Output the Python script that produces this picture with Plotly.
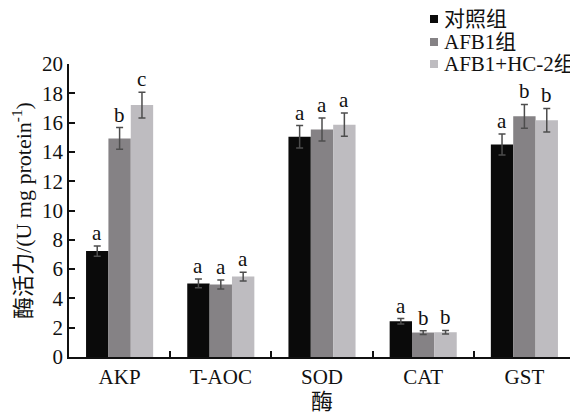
import plotly.graph_objects as go

categories = ["AKP", "T-AOC", "SOD", "CAT", "GST"]
series_names = ["对照组", "AFB1组", "AFB1+HC-2组"]
control = [7.23, 5.02, 15.03, 2.44, 14.51]
control_err = [0.35, 0.30, 0.77, 0.18, 0.72]
afb1 = [14.92, 4.95, 15.53, 1.67, 16.43]
afb1_err = [0.74, 0.30, 0.79, 0.13, 0.81]
afb1_hc2 = [17.20, 5.49, 15.86, 1.69, 16.16]
afb1_hc2_err = [0.88, 0.30, 0.79, 0.12, 0.81]
letters_control = ["a", "a", "a", "a", "a"]
letters_afb1 = ["b", "a", "a", "b", "b"]
letters_hc2 = ["c", "a", "a", "b", "b"]
y_ticks = [0, 2, 4, 6, 8, 10, 12, 14, 16, 18, 20]

colors = ["#0a0a0a", "#858285", "#bebcc0"]
err_color = "#4d4d4d"
FONT = "Liberation Serif, Times New Roman, Noto Sans CJK SC, serif"

values = [control, afb1, afb1_hc2]
errs = [control_err, afb1_err, afb1_hc2_err]
letters = [letters_control, letters_afb1, letters_hc2]

# the page body has an 8px default margin, so the figure is drawn 8px in
OFF = 8
W, H = 578 - OFF, 415 - OFF
ML, MR, MT, MB = 69 - OFF, 3, 64 - OFF, 58
PW, PH = W - ML - MR, H - MT - MB

def px_x(p):
    return (p - OFF - ML) / PW

def px_y(p):
    return (H + OFF - MB - p) / PH

bargap = 0.337
bar_w = (1 - bargap) / 3

fig = go.Figure()
for k in range(3):
    fig.add_trace(go.Bar(
        x=categories, y=values[k], name=series_names[k], showlegend=False,
        marker=dict(color=colors[k], line=dict(width=0)),
        error_y=dict(type="data", array=errs[k], color=err_color,
                     thickness=1.5, width=3.5),
    ))

annotations = []
for k in range(3):
    for i in range(len(categories)):
        annotations.append(dict(
            x=i + (k - 1) * bar_w, y=values[k][i] + errs[k][i],
            xref="x", yref="y", text=letters[k][i], showarrow=False,
            yanchor="bottom", xanchor="center", yshift=-1,
            font=dict(family=FONT, size=21, color="#111"),
        ))

# legend drawn as squares + labels
shapes = []
legend_rows = [19, 42, 64]
for k in range(3):
    cy = legend_rows[k]
    shapes.append(dict(
        type="rect", xref="paper", yref="paper",
        x0=px_x(430), x1=px_x(438), y0=px_y(cy + 4), y1=px_y(cy - 4),
        fillcolor=colors[k], line=dict(width=0),
    ))
    annotations.append(dict(
        x=px_x(442), y=px_y(cy), xref="paper", yref="paper",
        text=series_names[k], showarrow=False, xanchor="left", yanchor="middle",
        font=dict(family=FONT, size=21, color="#111"),
    ))

fig.update_layout(
    width=W, height=H,
    margin=dict(l=ML, r=MR, t=MT, b=MB),
    paper_bgcolor="white", plot_bgcolor="white",
    barmode="group", bargap=bargap, bargroupgap=0,
    font=dict(family=FONT, size=20, color="#111"),
    showlegend=False,
    annotations=annotations,
    shapes=shapes,
)
fig.update_xaxes(
    type="category", range=[-0.5, 4.5], automargin=False,
    showline=True, linecolor="#111", linewidth=1.5,
    ticks="inside", ticklen=6, tickwidth=1.5, tickcolor="#111",
    tickson="boundaries", showgrid=False, zeroline=False,
    tickfont=dict(size=21),
    title=dict(text="酶", font=dict(size=22), standoff=4),
)
fig.update_yaxes(
    range=[0, 20], tickvals=y_ticks, automargin=False,
    showline=True, linecolor="#111", linewidth=1.5,
    ticks="inside", ticklen=6, tickwidth=1.5, tickcolor="#111",
    showgrid=False, zeroline=False,
    tickfont=dict(size=21),
    title=dict(text="酶活力/(U mg protein<sup>-1</sup>)", font=dict(size=22), standoff=12),
)

fig.write_html("out.html")
